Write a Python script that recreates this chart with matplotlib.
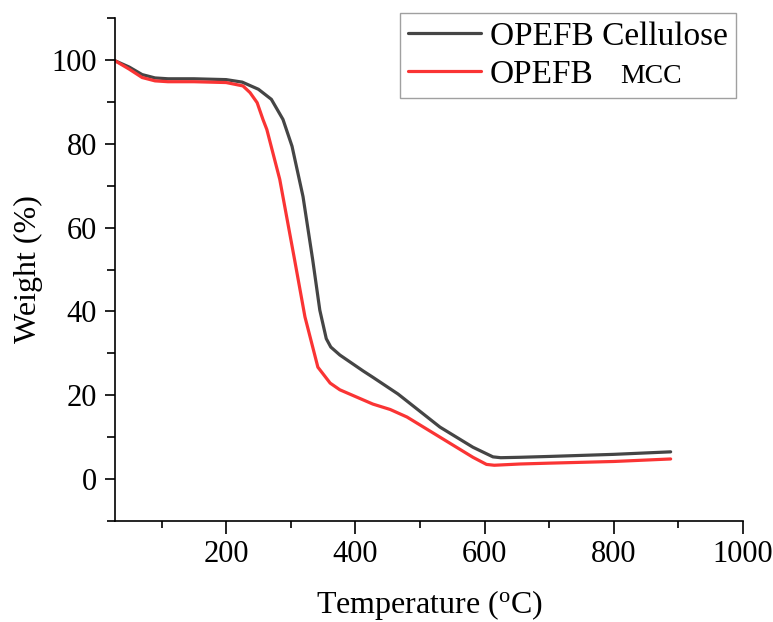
import matplotlib

matplotlib.use("Agg")
import matplotlib.pyplot as plt
from matplotlib.ticker import MultipleLocator

plt.rcParams["font.family"] = ["Liberation Serif", "DejaVu Serif"]
plt.rcParams["mathtext.fontset"] = "custom"
plt.rcParams["mathtext.rm"] = "Liberation Serif"

# TGA readings taken off the reference figure
temp_cellulose = [28, 50, 70, 90, 110, 150, 200, 225, 250, 270, 288, 302, 319, 334,
                  345, 355, 362, 376, 412, 427, 466, 480, 531, 582, 613, 625, 655,
                  700, 800, 888]
weight_cellulose = [99.8, 98.3, 96.5, 95.7, 95.5, 95.5, 95.3, 94.7, 93.0, 90.6, 85.8,
                    79.4, 67.4, 52.3, 40.3, 33.5, 31.5, 29.6, 25.8, 24.3, 20.3, 18.6,
                    12.4, 7.6, 5.3, 5.1, 5.2, 5.4, 5.9, 6.5]

temp_mcc = [28, 50, 70, 90, 110, 150, 200, 226, 237, 248, 257, 263, 283, 306, 322,
            342, 361, 376, 427, 454, 480, 531, 582, 603, 615, 655, 700, 800, 888]
weight_mcc = [99.8, 97.8, 95.8, 95.0, 94.8, 94.8, 94.6, 93.8, 92.2, 89.8, 85.8, 83.4,
              71.5, 52.3, 38.7, 26.7, 22.9, 21.3, 17.9, 16.6, 14.8, 10.0, 5.2, 3.5,
              3.3, 3.6, 3.8, 4.2, 4.8]

fig = plt.figure(figsize=(7.73, 6.22), dpi=100)
ax = fig.add_axes([115 / 773, 101 / 622, 628 / 773, 503 / 622])

ax.plot(temp_cellulose, weight_cellulose, color="#454545", linewidth=2.3,
        label="OPEFB Cellulose", solid_capstyle="round", solid_joinstyle="round")
ax.plot(temp_mcc, weight_mcc, color="#fa3434", linewidth=2.3,
        label="OPEFB", solid_capstyle="round", solid_joinstyle="round")

ax.set_xlim(28, 1000)
ax.set_ylim(-10, 110)
ax.xaxis.set_major_locator(MultipleLocator(200))
ax.xaxis.set_minor_locator(MultipleLocator(100))
ax.yaxis.set_major_locator(MultipleLocator(20))
ax.yaxis.set_minor_locator(MultipleLocator(10))
ax.set_xticks([200, 400, 600, 800, 1000])
ax.set_yticks([0, 20, 40, 60, 80, 100])

ax.spines["top"].set_visible(False)
ax.spines["right"].set_visible(False)
for s in ("left", "bottom"):
    ax.spines[s].set_linewidth(1.2)
ax.tick_params(which="major", direction="out", width=1.2, labelsize=22)
ax.tick_params(axis="x", which="major", length=9, pad=5)
ax.tick_params(axis="x", which="minor", length=5, width=1.2)
ax.tick_params(axis="y", which="major", length=7, pad=6)
ax.tick_params(axis="y", which="minor", length=6, width=1.2)

ax.set_xlabel(r"Temperature ($\mathregular{^{o}}$C)", fontsize=23, labelpad=13)
ax.set_ylabel("Weight (%)", fontsize=23, labelpad=6)

leg = ax.legend(loc="upper right", bbox_to_anchor=(736 / 773, 1 - 13 / 622),
                bbox_transform=fig.transFigure, borderaxespad=0, fontsize=24,
                frameon=True, fancybox=False, edgecolor="#888888",
                handlelength=2.2, handletextpad=0.25, borderpad=0.25,
                labelspacing=0.22)
leg.get_frame().set_linewidth(1.0)

# smaller "MCC" after the second legend entry, on the same baseline
fig.canvas.draw()
bb = leg.get_texts()[1].get_window_extent()
fig.text((bb.x1 + 27) / 773, (bb.y0 + 1) / 622, "MCC", fontsize=20,
         ha="left", va="bottom")

fig.savefig("out.png", dpi=100)
plt.close(fig)
